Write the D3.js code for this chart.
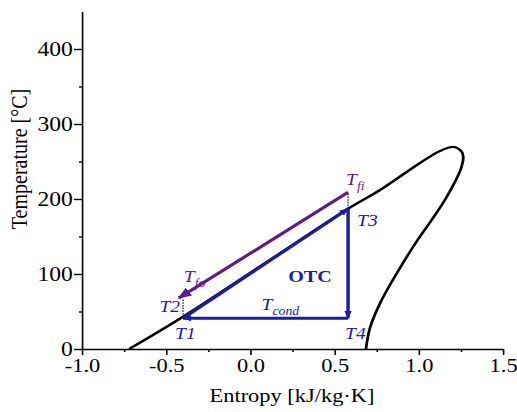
<!DOCTYPE html>
<html>
<head>
<meta charset="utf-8">
<script src="https://cdn.jsdelivr.net/npm/d3@7"></script>
<style>
  html, body { margin: 0; padding: 0; background: #fff; }
  svg { display: block; }
  text { font-family: "Liberation Serif", "Times New Roman", serif; }
</style>
</head>
<body>
<div id="chart"></div>
<script>
// saturation dome (entropy kJ/kg.K, temperature C)
const domeS = [-0.72, -0.40, 0.09, 0.58, 0.77, 1.007, 1.126, 1.205, 1.255, 1.264, 1.251, 1.215, 1.156, 1.067, 0.989, 0.888, 0.77, 0.71, 0.686];
const domeT = [0, 43, 115, 187, 212, 248, 264, 269.5, 263, 256, 241, 223, 199, 169, 144, 108, 61, 28, 0];

// cycle state points
const stateNames = ["T1", "T2", "T3", "T4", "Tfi", "Tfo"];
const stateS = [-0.40, -0.40, 0.58, 0.58, 0.58, -0.425];
const stateT = [41, 44, 187, 41, 209, 68];

// axis ticks
const xTicks = [-1.0, -0.5, 0.0, 0.5, 1.0, 1.5];
const xMinor = [-0.75, -0.25, 0.25, 0.75, 1.25];
const yTicks = [0, 100, 200, 300, 400];
const yMinor = [50, 150, 250, 350];

const blue = "#1c1ca8";
const purple = "#5b1b8b";

// the drawing is stretched a bit horizontally, like the original figure
const k = 1.15;
const W = 517 / k, H = 412;

const svg = d3.select("#chart")
  .append("svg")
    .attr("width", 517)
    .attr("height", 412)
    .attr("viewBox", `0 0 ${W} ${H}`)
    .attr("preserveAspectRatio", "none");

const x = d3.scaleLinear().domain([-1.0, 1.5]).range([82 / k, 503 / k]);
const y = d3.scaleLinear().domain([0, 450]).range([349, 11.5]);

const pt = {};
stateNames.forEach((n, i) => { pt[n] = { s: stateS[i], T: stateT[i] }; });

// markers
const defs = svg.append("defs");
function arrow(id, color, size) {
  defs.append("marker")
    .attr("id", id)
    .attr("viewBox", "0 0 10 10")
    .attr("refX", 9).attr("refY", 5)
    .attr("markerWidth", size).attr("markerHeight", size)
    .attr("markerUnits", "userSpaceOnUse")
    .attr("orient", "auto")
    .append("path")
      .attr("d", "M0,1 L10,5 L0,9 Z")
      .attr("fill", color);
}
arrow("arrBlue", blue, 8);
arrow("arrPurple", purple, 12);

// axes
svg.append("g")
  .attr("class", "xaxis")
  .attr("transform", `translate(0,${y(0)})`)
  .call(d3.axisBottom(x).tickValues(xTicks).tickSize(6).tickSizeOuter(0).tickPadding(3)
    .tickFormat(d => d.toFixed(1)));
svg.append("g")
  .attr("transform", `translate(0,${y(0)})`)
  .call(d3.axisBottom(x).tickValues(xMinor).tickSize(3).tickFormat(""))
  .select(".domain").remove();

svg.append("g")
  .attr("class", "yaxis")
  .attr("transform", `translate(${x(-1.0)},0)`)
  .call(d3.axisLeft(y).tickValues(yTicks).tickSize(8 / k).tickSizeOuter(0).tickPadding(1));
svg.append("g")
  .attr("transform", `translate(${x(-1.0)},0)`)
  .call(d3.axisLeft(y).tickValues(yMinor).tickSize(3 / k).tickFormat(""))
  .select(".domain").remove();

svg.selectAll(".domain, .tick line").attr("stroke", "#000").attr("stroke-width", 1.4);
svg.selectAll(".tick text")
  .attr("fill", "#000")
  .style("font-family", '"Liberation Serif", "Times New Roman", serif');
svg.selectAll(".xaxis .tick text").style("font-size", "19.5px");
svg.selectAll(".yaxis .tick text").style("font-size", "20.5px");

// axis titles
svg.append("text")
  .attr("x", 292 / k)
  .attr("y", 402)
  .attr("text-anchor", "middle")
  .style("font-size", "19.5px")
  .text("Entropy [kJ/kg\u00b7K]");

svg.append("text")
  .attr("transform", `translate(${27 / k},${159}) rotate(-90)`)
  .attr("text-anchor", "middle")
  .style("font-size", "20px")
  .text("Temperature [\u00b0C]");

// dome
const dome = domeS.map((s, i) => ({ s: s, T: domeT[i] }));
svg.append("path")
  .datum(dome)
  .attr("d", d3.line().x(d => x(d.s)).y(d => y(d.T)).curve(d3.curveCatmullRom.alpha(0.5)))
  .attr("fill", "none")
  .attr("stroke", "#000")
  .attr("stroke-width", 2.4);

// dotted connectors
[["Tfi", "T3"], ["Tfo", "T2"]].forEach(([a, b]) => {
  svg.append("line")
    .attr("x1", x(pt[b].s)).attr("y1", y(pt[a].T - 2))
    .attr("x2", x(pt[b].s)).attr("y2", y(pt[b].T))
    .attr("stroke", "#000")
    .attr("stroke-width", 1)
    .attr("stroke-dasharray", "1.5,1.2");
});

// cycle
[["T1", "T3"], ["T3", "T4"], ["T4", "T1"]].forEach(([a, b]) => {
  svg.append("line")
    .attr("x1", x(pt[a].s)).attr("y1", y(pt[a].T))
    .attr("x2", x(pt[b].s)).attr("y2", y(pt[b].T))
    .attr("stroke", blue)
    .attr("stroke-width", 3)
    .attr("marker-end", "url(#arrBlue)");
});

// heat source line
svg.append("line")
  .attr("x1", x(pt.Tfi.s)).attr("y1", y(pt.Tfi.T))
  .attr("x2", x(pt.Tfo.s)).attr("y2", y(pt.Tfo.T))
  .attr("stroke", purple)
  .attr("stroke-width", 3)
  .attr("marker-end", "url(#arrPurple)");

// labels
function label(name, txt, sub, dx, dy, color, anchor) {
  const t = svg.append("text")
    .attr("x", x(pt[name].s) + dx / k)
    .attr("y", y(pt[name].T) + dy)
    .attr("text-anchor", anchor || "start")
    .attr("fill", color)
    .style("font-size", "17px")
    .style("font-style", "italic");
  t.append("tspan").text(txt);
  if (sub) {
    t.append("tspan").attr("dy", 5).style("font-size", "12px").text(sub);
  }
}
label("T1", "T1", null, -8, 21, blue);
label("T2", "T2", null, -3, -4, blue, "end");
label("T3", "T3", null, 9, 17, blue);
label("T4", "T4", null, -3, 21, blue);
label("Tfi", "T", "fi", -2, -7, purple);
label("Tfo", "T", "fo", 5, -16, purple);

// condensation label
const tc = svg.append("text")
  .attr("x", x((pt.T1.s + pt.T4.s) / 2) - 4 / k)
  .attr("y", y(pt.T4.T) - 8)
  .attr("fill", blue)
  .style("font-size", "17px")
  .style("font-style", "italic");
tc.append("tspan").text("T");
tc.append("tspan").attr("dy", 5).style("font-size", "12px").text("cond");

svg.append("text")
  .attr("x", x(0.354))
  .attr("y", y(89))
  .attr("text-anchor", "middle")
  .attr("fill", blue)
  .style("font-size", "17.5px")
  .style("font-weight", "bold")
  .text("OTC");
</script>
</body>
</html>
